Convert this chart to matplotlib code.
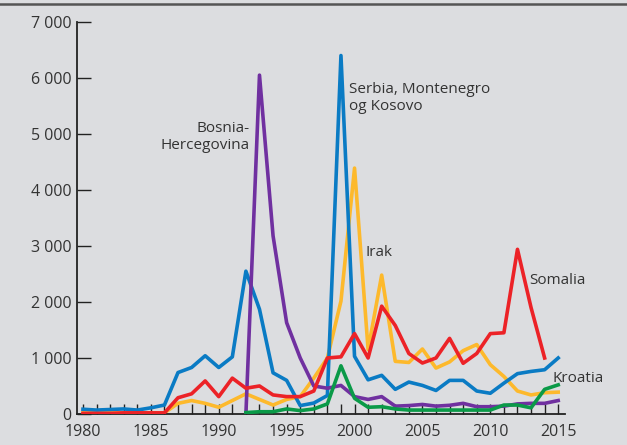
import matplotlib
matplotlib.use('Agg')
import matplotlib.pyplot as plt
from matplotlib.lines import Line2D
from matplotlib.ticker import FuncFormatter, MultipleLocator

plt.rcParams['font.family'] = ['Open Sans', 'DejaVu Sans']

# Values
years_all = list(range(1980, 2016))
years_92 = list(range(1992, 2016))
years_som = list(range(1980, 2015))

serbia = [85, 70, 80, 90, 70, 110, 160, 740, 830, 1040, 830, 1020, 2550, 1870,
          735, 600, 150, 195, 330, 6400, 1030, 610, 690, 440, 570, 510, 420,
          600, 600, 410, 370, 550, 720, 760, 790, 1000]
irak = [20, 20, 20, 20, 20, 20, 20, 190, 240, 190, 120, 240, 360, 260, 160,
        260, 310, 640, 1000, 2015, 4390, 1150, 2480, 940, 920, 1160, 820, 930,
        1130, 1240, 880, 670, 410, 340, 380, 390]
somalia = [10, 10, 10, 20, 20, 20, 20, 290, 360, 590, 310, 640, 460, 500, 340,
           310, 310, 410, 1000, 1020, 1435, 1000, 1925, 1580, 1080, 910, 1000,
           1350, 905, 1080, 1435, 1450, 2940, 1900, 1000]
bosnia = [0, 6050, 3180, 1630, 1000, 500, 460, 510, 310, 260, 310, 140, 150,
          170, 140, 155, 190, 130, 130, 140, 180, 190, 190, 240]
kroatia = [25, 40, 40, 90, 60, 90, 180, 860, 280, 120, 130, 90, 70, 70, 70,
           70, 70, 70, 70, 160, 160, 110, 440, 520]

bg = '#dcdde0'
txt = '#333333'

fig = plt.figure(figsize=(6.27, 4.45), dpi=100)
fig.patch.set_facecolor(bg)
ax = fig.add_axes([0.1228, 0.0697, 0.7783, 0.881])
ax.set_facecolor(bg)

lw = 2.6
ax.plot(years_all, serbia, color='#0a7bc4', lw=lw, zorder=3)
ax.plot(years_all, irak, color='#fdb92c', lw=lw, zorder=2)
ax.plot(years_som, somalia, color='#ec2227', lw=lw, zorder=4)
ax.plot(years_92, bosnia, color='#7030a0', lw=lw, zorder=3)
ax.plot(years_92, kroatia, color='#0a9a48', lw=lw, zorder=3)

ax.set_xlim(1979.56, 2015.5)
ax.set_ylim(0, 7000)

for s in ['top', 'right']:
    ax.spines[s].set_visible(False)
for s in ['left', 'bottom']:
    ax.spines[s].set_color('#222222')
    ax.spines[s].set_linewidth(1.3)

ax.xaxis.set_major_locator(MultipleLocator(5))
ax.xaxis.set_minor_locator(MultipleLocator(1))
ax.yaxis.set_major_locator(MultipleLocator(1000))
ax.yaxis.set_major_formatter(FuncFormatter(lambda v, p: f'{int(v):,}'.replace(',', ' ')))

ax.tick_params(axis='x', which='both', direction='in', length=7, width=1,
               color='#222222', labelsize=11.5, labelcolor=txt, pad=7)
ax.tick_params(axis='y', which='major', direction='in', length=10, width=1,
               color='#222222', labelsize=11.5, labelcolor=txt, pad=4)

# series labels
fs = 11
ax.text(1999.6, 5640, 'Serbia, Montenegro\nog Kosovo', fontsize=fs, color=txt,
        va='center', ha='left', linespacing=1.15)
ax.text(1992.3, 4950, 'Bosnia-\nHercegovina', fontsize=fs, color=txt,
        va='center', ha='right', linespacing=1.15)
ax.text(2000.8, 2880, 'Irak', fontsize=fs, color=txt, va='center', ha='left')
ax.text(2012.9, 2390, 'Somalia', fontsize=fs, color=txt, va='center', ha='left')
ax.text(2014.6, 640, 'Kroatia', fontsize=fs, color=txt, va='center', ha='left')

# dark rule across the top of the figure
fig.add_artist(Line2D([0, 1], [1 - 3.5 / 445, 1 - 3.5 / 445], transform=fig.transFigure,
                      color='#555555', lw=1.8))

fig.savefig('out.png', dpi=100, facecolor=bg)
